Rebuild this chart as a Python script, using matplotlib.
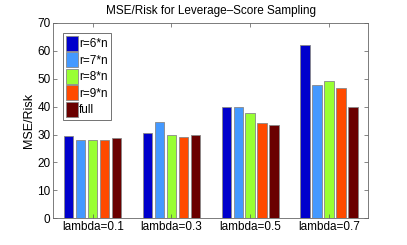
import numpy as np
import matplotlib
matplotlib.use("Agg")
import matplotlib.pyplot as plt

plt.rcParams['font.family'] = ['Liberation Sans', 'DejaVu Sans']

groups = ['lambda=0.1', 'lambda=0.3', 'lambda=0.5', 'lambda=0.7']
series = ['r=6*n', 'r=7*n', 'r=8*n', 'r=9*n', 'full']
r6 = [29.4, 30.6, 39.7, 62.2]
r7 = [28.0, 34.5, 39.7, 47.6]
r8 = [28.1, 29.7, 37.6, 49.0]
r9 = [28.1, 29.1, 34.0, 46.5]
full = [28.6, 29.7, 33.5, 39.7]
colors = ['#0000cc', '#4499ff', '#99ff33', '#ff4a00', '#6a0000']

fig = plt.figure(figsize=(4.07, 2.45), dpi=100)
ax = fig.add_axes([0.131, 0.109, 0.774, 0.798])

x = np.arange(1, len(groups) + 1)
w = 0.12
step = 0.152
for i, (vals, lab) in enumerate(zip([r6, r7, r8, r9, full], series)):
    ax.bar(x + (i - 2) * step, vals, w, color=colors[i], edgecolor='#888888',
           linewidth=0.6, label=lab)

ax.set_xlim(0.5, 4.5)
ax.set_ylim(0, 70)
ax.set_xticks(x)
ax.set_xticklabels(groups)
ax.set_yticks(range(0, 71, 10))
ax.tick_params(direction='in', top=True, right=True, labelsize=8.5, length=3,
               width=0.5, color='#555555', pad=2)
for s in ax.spines.values():
    s.set_color('#666666')
    s.set_linewidth(0.6)
ax.set_ylabel('MSE/Risk', fontsize=9, labelpad=2)
ax.set_title('MSE/Risk for Leverage\u2013Score Sampling', fontsize=8.5, pad=6)

leg = ax.legend(loc='upper left', bbox_to_anchor=(0.03, 0.95), fontsize=8.5,
                frameon=True, fancybox=False, edgecolor='#333333',
                handlelength=1.0, handleheight=1.6, handletextpad=0.15,
                labelspacing=0.12, borderpad=0.25, borderaxespad=0)
leg.get_frame().set_linewidth(0.6)

fig.savefig('out.png', dpi=100)
